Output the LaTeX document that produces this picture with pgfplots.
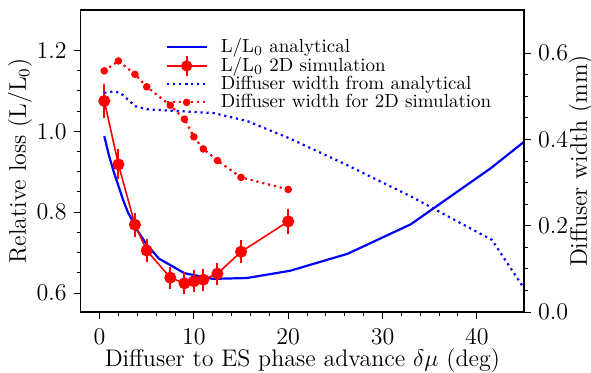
\documentclass[border=0pt]{standalone}
\usepackage{pgfplots}
\pgfplotsset{compat=1.18}
\pgfplotstableread{
x y e
0.5 1.075 0.041
2 0.918 0.037
3.75 0.769 0.030
5 0.705 0.029
7.5 0.638 0.027
9 0.624 0.027
10 0.629 0.027
11 0.633 0.027
12.5 0.648 0.027
15 0.702 0.029
20 0.777 0.030
}\simdata
\pgfplotstableread{
x y
0.5 0.988
1 0.94
1.5 0.90
2 0.865
2.5 0.83
3 0.80
3.5 0.778
4 0.755
5 0.72
6.3 0.685
9 0.649
12 0.635
15.6 0.637
20.2 0.655
26.3 0.697
33 0.770
41.5 0.909
45 0.974
}\anadata
\pgfplotstableread{
x w
0.5 0.559
2 0.582
3.75 0.551
5 0.522
7.5 0.479
9 0.447
10 0.406
11 0.378
12.5 0.351
15 0.312
20 0.284
}\simwidth
\pgfplotstableread{
x w
0.5 0.508
1.5 0.511
2.2 0.508
3.8 0.477
5 0.470
6.4 0.468
9 0.465
12.1 0.461
15.6 0.443
20.2 0.402
26.3 0.340
33 0.268
41.6 0.167
45 0.055
}\anawidth
\tikzset{
  anastyle/.style={blue, line width=1.1pt},
  simstyle/.style={red, line width=0.8pt},
  anawstyle/.style={blue, line width=1.1pt, dash pattern=on 1.1pt off 1.9pt},
  simwstyle/.style={red, line width=1.1pt, dash pattern=on 1.1pt off 1.9pt},
}
\pgfplotsset{
  common/.style={
    scale only axis, width=221.65pt, height=151pt,
    xmin=-2, xmax=45,
    tick align=outside,
    major tick length=3.5pt, minor tick length=2pt,
    every tick/.style={black, line width=0.5pt},
    axis line style={line width=0.6pt},
    tick label style={font=\fontsize{12}{14}\selectfont},
    yticklabel style={/pgf/number format/.cd, fixed, fixed zerofill, precision=1},
  }
}
\begin{document}
\begin{tikzpicture}
\begin{axis}[common,
  ymin=0.553, ymax=1.3,
  xtick={0,10,20,30,40}, minor x tick num=4,
  ytick={0.6,0.8,1.0,1.2}, minor y tick num=3,
  xtick pos=bottom, ytick pos=left,
  xticklabel style={yshift=-1.5pt},
  xlabel={Diffuser to ES phase advance $\delta\mu$ (deg)},
  ylabel={Relative loss (L/L$_0$)},
  every axis x label/.style={at={(axis description cs:0.5,0)}, anchor=center, yshift=-24.5pt, font=\fontsize{12}{14}\selectfont},
  every axis y label/.style={at={(axis description cs:0,0.5)}, anchor=center, xshift=-30.4pt, rotate=90, font=\fontsize{12}{14}\selectfont},
  legend style={draw=none, fill=none, at={(0.186,0.927)}, anchor=north west,
    font=\fontsize{9.5}{11}\selectfont, row sep=-3.2pt, inner sep=1pt,
    /tikz/every odd column/.append style={column sep=4.5pt}},
  legend cell align=left,
  legend image code/.code={\draw[mark repeat=2, mark phase=2, #1] plot coordinates {(0pt,0pt) (10pt,0pt) (20pt,0pt)};},
]
\addplot[anastyle] table[x=x,y=y] {\anadata};
\addlegendentry{L/L$_0$ analytical}
\addplot[simstyle, mark=*, mark size=2.6pt, forget plot,
  error bars/.cd, y dir=both, y explicit, error mark=none,
  error bar style={red, line width=1pt}]
  table[x=x, y=y, y error=e] {\simdata};
\addlegendimage{legend image code/.code={
  \draw[red, line width=0.8pt] (0pt,0pt) -- (20pt,0pt);
  \draw[red, line width=1pt] (10pt,-5pt) -- (10pt,5pt);
  \fill[red] (10pt,0pt) circle (2.6pt);}}
\addlegendentry{L/L$_0$ 2D simulation}
\addlegendimage{anawstyle}
\addlegendentry{Diffuser width from analytical}
\addlegendimage{simwstyle, mark=*, mark size=1.3pt, mark options={solid}}
\addlegendentry{Diffuser width for 2D simulation}
\end{axis}
\begin{axis}[common,
  ymin=0, ymax=0.7,
  axis x line=none, axis y line*=right,
  ytick={0,0.2,0.4,0.6}, minor y tick num=3,
  yticklabel pos=right,
  ylabel={Diffuser width (mm)},
  every axis y label/.style={at={(axis description cs:1,0.5)}, anchor=center, xshift=28.5pt, rotate=90, font=\fontsize{12}{14}\selectfont},
]
\addplot[anawstyle] table[x=x,y=w] {\anawidth};
\addplot[simwstyle, mark=*, mark size=1.3pt, mark options={solid}] table[x=x,y=w] {\simwidth};
\end{axis}
\pgfresetboundingbox
\path (-40.35pt,-30pt) rectangle (255.15pt,156pt);
\end{tikzpicture}
\end{document}
